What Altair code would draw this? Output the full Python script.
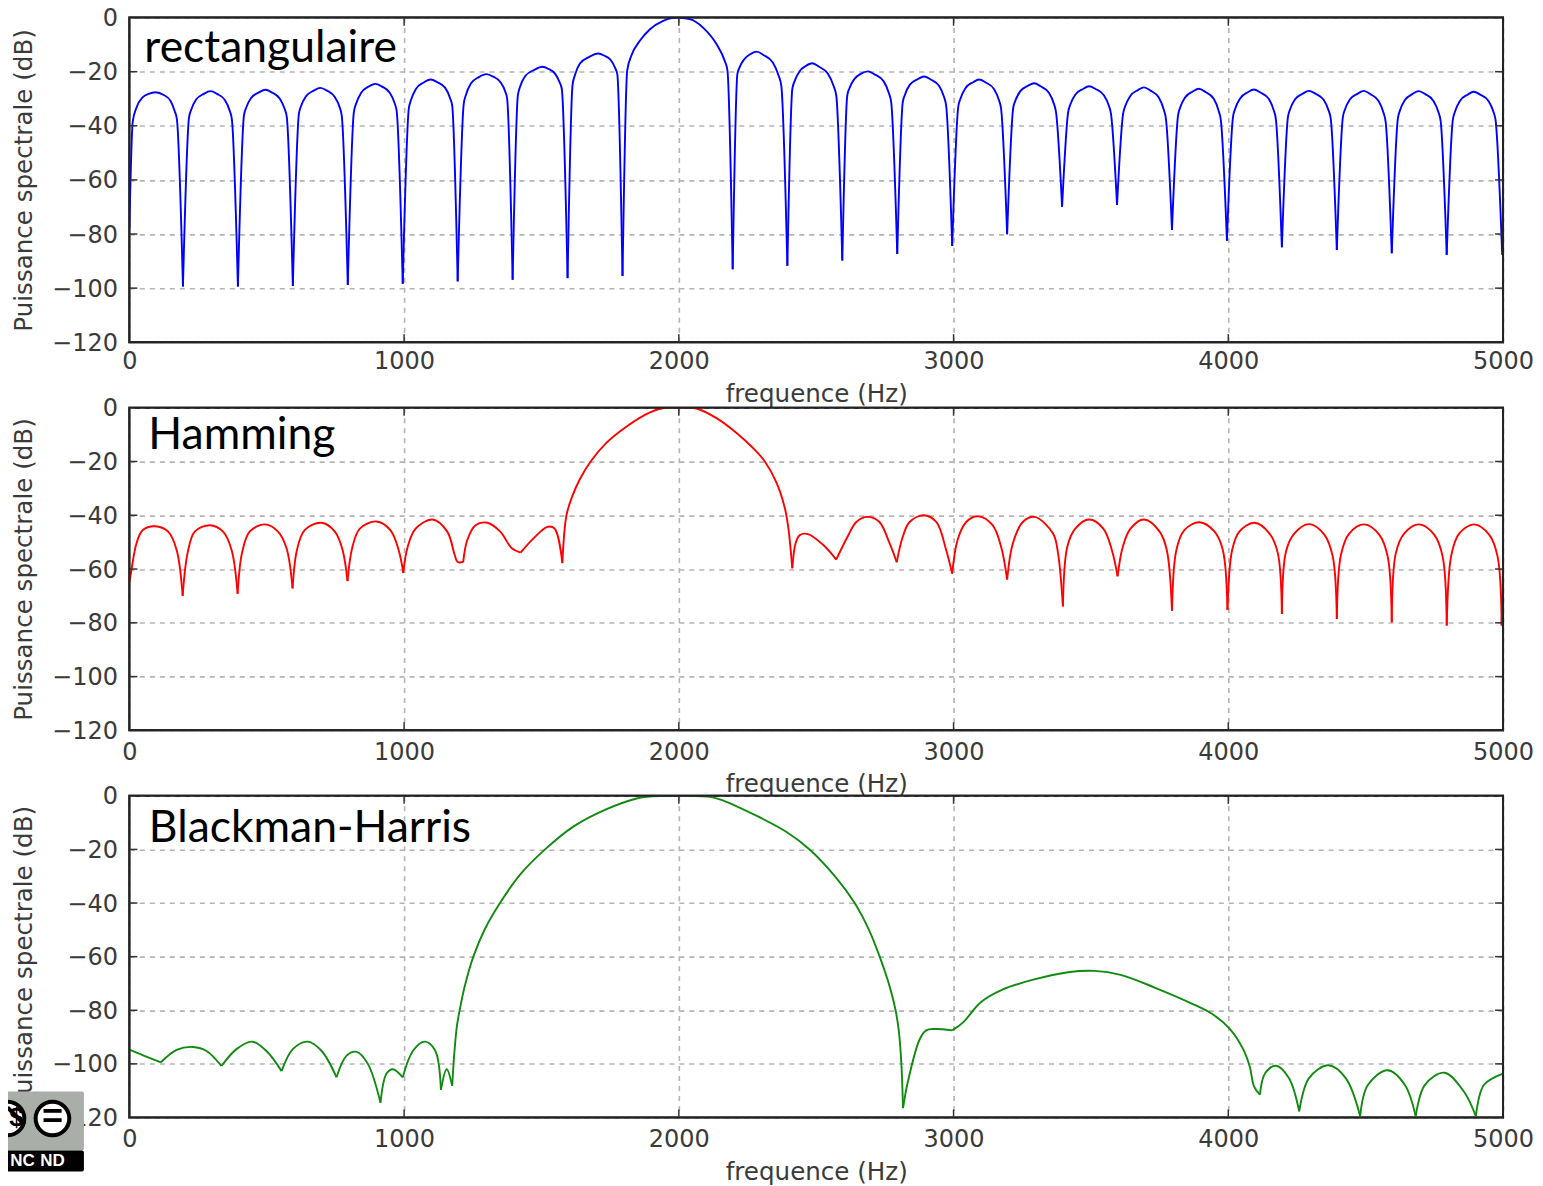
import altair as alt
import pandas as pd

x_ticks = [0, 1000, 2000, 3000, 4000, 5000]
y_ticks = [0, -20, -40, -60, -80, -100, -120]

rect_freq = [0, 12, 25, 50, 70, 95, 125, 150, 165, 173, 195,
  217,225,243,271,295,319,347,365,373,395,
  417,425,443,471,495,519,547,565,573,595,
  617,625,643,671,695,719,747,765,773,795,
  817,825,843,871,895,919,947,965,973,995,
  1017,1025,1043,1071,1097,1121,1149,1167,1175,1195,
  1217,1225,1243,1272,1300,1324,1350,1368,1375,1395,
  1414,1422,1441,1474,1503,1526,1550,1566,1574,1595,
  1613,1621,1640,1674,1707,1729,1752,1768,1776,1795,
  1812,1827,1858,1895,1943,1992,2040,2088,2137,2167,2177,2196,
  2213,2221,2239,2262,2283,2309,2342,2363,2373,2395,
  2413,2421,2439,2462,2485,2509,2542,2563,2573,2595,
  2613,2621,2639,2662,2688,2712,2745,2765,2773,2795,
  2815,2823,2841,2869,2893,2917,2947,2965,2973,2995,
  3017,3025,3043,3071,3093,3117,3147,3165,3173,3195,
  3217,3225,3243,3271,3293,3317,3347,3365,3373,3395,
  3417,3425,3443,3471,3493,3517,3547,3565,3573,3595,
  3617,3625,3643,3671,3693,3717,3747,3765,3773,3795,
  3817,3825,3843,3871,3893,3917,3947,3965,3973,3995,
  4017,4025,4043,4071,4093,4117,4147,4165,4173,4195,
  4217,4225,4243,4271,4293,4317,4347,4365,4373,4395,
  4417,4425,4443,4471,4493,4517,4547,4565,4573,4595,
  4617,4625,4643,4671,4693,4717,4747,4765,4773,4795,
  4817,4825,4843,4871,4893,4917,4947,4965,4973,4997]
rect_db = [-78, -38.6, -33.5, -29.3, -28.2, -27.6, -28.6, -30.8, -34.6, -37.6, -99.4,
  -37,-34.1,-30.3,-28.2,-27.2,-28.2,-30.4,-34.4,-37.5,-99.4,
  -36.2,-33.3,-29.7,-27.7,-26.7,-27.7,-29.9,-33.7,-36.8,-99.2,
  -35.6,-32.7,-29.1,-27,-26,-27,-29.3,-33,-36.2,-98.8,
  -35,-31.9,-27.9,-25.5,-24.5,-25.5,-27.7,-31.5,-34.6,-98.4,
  -33.7,-30.5,-26.4,-24,-22.9,-23.9,-25.9,-29.7,-32.5,-97.5,
  -31.9,-28.6,-24.4,-22,-20.9,-21.8,-23.8,-27.3,-30,-96.9,
  -28.8,-25.6,-21.6,-19.3,-18.2,-19,-20.8,-23.9,-26.4,-96.3,
  -25,-21.5,-17,-14.5,-13.3,-14.1,-15.7,-18.6,-20.9,-95.5,
  -19.6,-14.1,-8.6,-4.3,-1.2,0,-0.6,-3.7,-9.8,-16,-19.6,-93,
  -20.9,-18.4,-15.3,-13.4,-12.6,-13.9,-16.6,-21.4,-25.2,-91.7,
  -26.4,-23.6,-19.9,-17.9,-16.9,-18.1,-20.7,-25.2,-28.8,-89.8,
  -28.8,-26.1,-22.7,-20.8,-19.9,-21,-23.5,-28.1,-31.3,-87.4,
  -31.3,-28.5,-24.8,-22.8,-21.8,-22.9,-25.2,-29.3,-32.5,-84.4,
  -33,-30,-26.1,-23.9,-22.9,-24,-26.4,-30.5,-33.7,-80.1,
  -33.5,-30.7,-27.2,-25.2,-24.3,-25.4,-27.8,-31.8,-35,-69.9,
  -35,-32.1,-28.5,-26.4,-25.4,-26.4,-28.7,-32.5,-35.6,-69.3,
  -35.6,-32.7,-29,-26.8,-25.8,-27,-29.5,-34,-37.4,-78.5,
  -36.2,-33.2,-29.5,-27.3,-26.3,-27.5,-30,-34.5,-38,-82.5,
  -36.8,-33.7,-29.9,-27.6,-26.6,-27.7,-30,-34.2,-37.4,-84.9,
  -36.8,-33.9,-30.2,-28.1,-27.1,-28.1,-30.4,-34.3,-37.4,-85.9,
  -36.8,-33.9,-30.2,-28.1,-27.1,-28.3,-30.8,-35.2,-38.7,-87.1,
  -37.4,-34.3,-30.5,-28.2,-27.2,-28.3,-30.8,-35,-38.3,-87.7,
  -38,-34.8,-30.8,-28.5,-27.4,-28.5,-30.8,-34.8,-38,-87.7]

hamm_freq = [0,8,26,49,93,141,172,194,212,238,293,341,372,394,410,438,493,541,572,594,610,638,699,748,776,794,812,839,899,950,980,997,1013,1042,1103,1157,1184,1195,1215,1230,1260,1303,1350,1392,1424,1471,1522,1548,1576,1591,1613,1640,1679,1737,1810,1882,1937,2000,2064,2137,2210,2270,2313,2355,2385,2398,2413,2425,2440,2470,2525,2573,2614,2646,2687,2730,2767,2793,2815,2840,2891,2937,2973,2995,3015,3046,3091,3142,3173,3195,3216,3252,3295,3362,3380,3398,3414,3443,3494,3545,3576,3597,3616,3644,3693,3750,3776,3795,3811,3840,3895,3950,3980,3997,4014,4040,4095,4150,4180,4195,4210,4240,4295,4350,4380,4395,4410,4440,4495,4550,4580,4595,4610,4640,4695,4750,4780,4795,4812,4840,4895,4950,4980,4995,5000]
hamm_db = [-65,-60,-50.4,-45.5,-44.1,-46.1,-52.9,-70,-54,-46.1,-43.7,-46.1,-52.9,-69.2,-54,-46.1,-43.4,-46.1,-52.3,-67.2,-52.9,-45.5,-42.8,-46.1,-52.9,-64.5,-51.7,-45,-42.3,-45.5,-52.9,-61.4,-51.7,-45,-41.6,-46.1,-54.7,-57.4,-57.4,-49.2,-43.7,-42.8,-46.1,-52.3,-53.9,-48.6,-44.3,-45,-57.8,-40,-32.7,-26.5,-20,-13,-7,-2.4,-0.3,0,-0.3,-3.9,-9.4,-15,-20,-27.8,-37,-44.3,-59.7,-50.4,-47.4,-47,-51,-56.5,-48,-42.5,-40.6,-42.5,-50.4,-57.5,-48,-42.5,-40,-42.5,-52.9,-61.7,-49,-42.5,-40.4,-43.7,-51.7,-63.9,-50.4,-42.5,-40.6,-46.8,-54,-73.9,-51.7,-45,-41.6,-45,-52.9,-62.7,-51.7,-45,-41.6,-46.1,-52.9,-75.5,-52.9,-45.5,-42.6,-46.1,-52.9,-75.2,-52.9,-46.1,-42.8,-46.8,-54,-76.7,-53.5,-46.8,-43.3,-47.3,-55.3,-78.6,-54.7,-46.8,-43.4,-47.3,-55.3,-79.8,-54,-46.8,-43.4,-47.3,-55.3,-81,-54.7,-46.8,-43.4,-47.3,-55.3,-81,-62]

bh_freq = [0,50,115,172,232,281,335,390,446,499,554,595,650,700,754,790,827,868,914,936,959,995,1033,1076,1113,1134,1155,1175,1182,1192,1204,1222,1252,1295,1349,1422,1513,1616,1737,1846,1882,2000,2113,2149,2282,2392,2476,2573,2640,2692,2731,2767,2789,2801,2810,2816,2834,2876,2900,2932,2995,3035,3099,3178,3290,3417,3513,3608,3736,3863,3943,4006,4054,4078,4094,4115,4134,4174,4221,4258,4293,4365,4428,4480,4508,4580,4643,4682,4715,4787,4858,4901,4930,5000]
bh_db = [-94.7,-96.8,-99.4,-94.8,-93.7,-95.2,-100.8,-94.5,-91.7,-95.2,-102.7,-94.5,-91.7,-95.2,-105,-97,-95.5,-100,-114.5,-103.6,-102,-105,-95,-91.7,-95,-109.7,-102,-108.2,-97,-86,-79,-70.5,-60,-49.5,-40,-29.4,-20,-11.5,-5,-1,-0.4,0,-0.4,-1.3,-7.4,-13.5,-20,-30.6,-40,-50,-60,-71,-80,-88,-100,-116.5,-106.5,-91,-87.5,-87,-87.5,-84.5,-77,-72.3,-68.6,-65.8,-65.3,-66.8,-71.7,-77.3,-81.5,-87,-94.5,-101,-108.5,-111.5,-103.5,-100.7,-105.4,-117.7,-105.4,-100.5,-105.4,-119.5,-107.9,-102.4,-107.9,-119.5,-107.9,-103.3,-110.4,-119.5,-107.9,-103.6]

PW, PH1, PH2, PH3 = 1375, 325, 323, 322
FONT = "DejaVu Sans"
one = pd.DataFrame({"a": [0]})

x_scale = alt.Scale(domain=[0, 5000], nice=False, zero=False)
y_scale = alt.Scale(domain=[-120, 0], nice=False, zero=False)

GRID = dict(grid=True, gridColor="#b4b4b4", gridDash=[5, 5], gridWidth=1.6, domain=False, ticks=False,
            labelFont=FONT, labelFontSize=24, labelColor="#3a3a3a", labelFontWeight="normal",
            titleFont=FONT, titleFontSize=24.6, titleColor="#3a3a3a", titleFontWeight="normal",
            labelOverlap=False, format="d")
yax = alt.Axis(values=y_ticks, title="Puissance spectrale (dB)", labelPadding=12, titlePadding=15,
               labelOffset=1, **GRID)


def segments(freq, db):
    """Split a curve at its local minima so each dip stays a sharp cusp."""
    rows, seg = [], 0
    for i, (f, d) in enumerate(zip(freq, db)):
        rows.append({"f": f, "db": d, "seg": seg})
        if 0 < i < len(db) - 1 and d <= db[i - 1] and d < db[i + 1]:
            seg += 1
            rows.append({"f": f, "db": d, "seg": seg})
    return pd.DataFrame(rows)


def panel(freq, db, color, label, lx, ly, h, interp, lab_pad, title_pad, extra=None):
    xax = alt.Axis(values=x_ticks, title="frequence (Hz)", labelPadding=lab_pad, titlePadding=title_pad,
                   labelFlush=False, **GRID)
    df = segments(freq, db)
    base = alt.Chart(df).mark_line(color=color, strokeWidth=1.9, clip=True, interpolate=interp).encode(
        x=alt.X("f:Q", scale=x_scale, axis=xax),
        y=alt.Y("db:Q", scale=y_scale, axis=yax),
        detail="seg:N",
    )
    vt = pd.DataFrame(
        [{"x": t, "y": -120, "y2": -117} for t in x_ticks[1:-1]]
        + [{"x": t, "y": 0, "y2": -3} for t in x_ticks[1:-1]]
    )
    ht = pd.DataFrame(
        [{"y": t, "x": 0, "x2": 29} for t in y_ticks[1:-1]]
        + [{"y": t, "x": 4971, "x2": 5000} for t in y_ticks[1:-1]]
    )
    vticks = alt.Chart(vt).mark_rule(color="#333333", strokeWidth=1.5).encode(
        x=alt.X("x:Q", scale=x_scale, axis=xax), y=alt.Y("y:Q", scale=y_scale, axis=yax), y2="y2:Q")
    hticks = alt.Chart(ht).mark_rule(color="#333333", strokeWidth=1.5).encode(
        y=alt.Y("y:Q", scale=y_scale, axis=yax), x=alt.X("x:Q", scale=x_scale, axis=xax), x2="x2:Q")
    frame = alt.Chart(one).mark_rect(fillOpacity=0, stroke="#222222", strokeWidth=2).encode(
        x=alt.value(0), x2=alt.value(PW), y=alt.value(0), y2=alt.value(h))
    txt = alt.Chart(one).mark_text(text=label, font="Lato", fontSize=44.5, color="black", align="left",
                                   baseline="alphabetic").encode(x=alt.value(lx), y=alt.value(ly))
    layers = [base, vticks, hticks, frame, txt] + (extra or [])
    return alt.layer(*layers).properties(width=PW, height=h)


def badge():
    def rect(x1, x2, y1, y2, c):
        return alt.Chart(one).mark_rect(color=c, cornerRadius=2).encode(
            x=alt.value(x1), x2=alt.value(x2), y=alt.value(y1), y2=alt.value(y2))
    def circ(x, y):
        return alt.Chart(one).mark_point(shape="circle", size=1134, filled=False, fill="white", fillOpacity=1,
                                         stroke="black", strokeWidth=4, opacity=1).encode(
            x=alt.value(x), y=alt.value(y))
    def t(x, y, s, size, weight="bold", c="white"):
        return alt.Chart(one).mark_text(text=s, font="Liberation Sans", fontSize=size, fontWeight=weight, color=c,
                                        align="center", baseline="middle").encode(x=alt.value(x), y=alt.value(y))
    slash = alt.Chart(one).mark_rule(color="black", strokeWidth=4).encode(
        x=alt.value(-122), x2=alt.value(-105), y=alt.value(312), y2=alt.value(329))
    return [rect(-137.5, -45.5, 296, 355, "#a9aea9"), rect(-137.5, -45.5, 355, 376, "#000000"),
            circ(-122, 323), slash, t(-113, 323, "$", 26, c="black"),
            circ(-77, 323), t(-77, 322, "=", 36, c="black"),
            t(-107, 366, "NC", 17), t(-77, 366, "ND", 17)]


p1 = panel(rect_freq, rect_db, "#0000ff", "rectangulaire", 15, 44.5, PH1, "monotone", 7.5, 8.5)
p2 = panel(hamm_freq, hamm_db, "#ff0000", "Hamming", 19, 41, PH2, "catmull-rom", 10, 8)
p3 = panel(bh_freq, bh_db, "#108a10", "Blackman-Harris", 19.5, 46, PH3, "catmull-rom", 10, 9.5, badge())

chart = (
    alt.vconcat(p1, p2, p3, spacing=65.5, bounds="flush",
                padding={"left": -26.5, "top": -3, "right": 0, "bottom": 0}, background="white")
    .configure_view(stroke="black", strokeWidth=2)
)
chart.save("out.html", embed_options={"renderer": "svg", "actions": False})
